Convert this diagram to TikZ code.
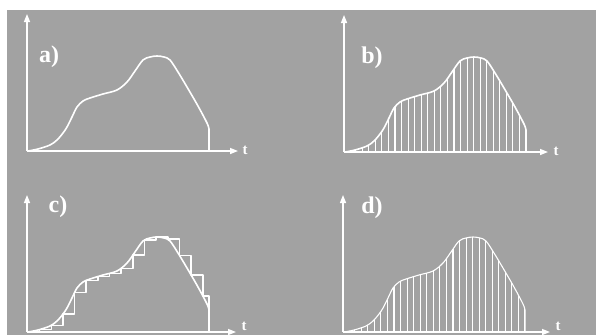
\documentclass[tikz,border=0pt]{standalone}
\usepackage{fontspec}
\setmainfont{Liberation Serif}
\usetikzlibrary{arrows.meta,intersections}
\definecolor{bg}{RGB}{162,162,162}
\begin{document}
\begin{tikzpicture}[x=1pt,y=-1pt,
  axis/.style={draw=white,line width=1.4pt,-{Triangle[length=8pt,width=6pt]}},
  crv/.style={draw=white,line width=1.6pt,line join=round},
  samp/.style={draw=white,line width=1.1pt},
  lab/.style={text=white,font=\fontsize{24}{24}\selectfont\bfseries,inner sep=0pt},
  tlab/.style={text=white,font=\fontsize{15}{15}\selectfont\bfseries,inner sep=0pt}]
\useasboundingbox (0,0) rectangle (596,335);
\fill[white] (0,0) rectangle (596,335);
\fill[bg] (7,10) rectangle (596,335);
\def\crvpath{plot[smooth,tension=0.55] coordinates {(0,0) (10,-2) (22,-6) (29,-11) (35,-18) (39,-24) (44,-34) (49,-44) (55,-50) (62,-53) (75,-57) (89,-61) (99,-69) (107,-80) (115,-91) (122,-94) (129,-95) (136,-94) (142,-91) (150,-79) (159,-64) (170,-45) (179,-28) (181,-22)} -- (181,0)}
% axes
\coordinate (oa) at (27,151); \coordinate (ya) at (27,14); \coordinate (xa) at (238,151);
\coordinate (ob) at (344,152); \coordinate (yb) at (344,15); \coordinate (xb) at (548,152);
\coordinate (oc) at (27,332); \coordinate (yc) at (27,195); \coordinate (xc) at (236,332);
\coordinate (od) at (343,332); \coordinate (yd) at (343,195); \coordinate (xd) at (550,332);
\foreach \p in {a,b,c,d}{
  \draw[axis] (o\p) -- (y\p);
  \draw[axis] (o\p) -- (x\p);
}
\node[tlab] (ta) at (245,150) {t};
\node[tlab] (tb) at (556,151) {t};
\node[tlab] (tc) at (244,326) {t};
\node[tlab] (td) at (558,326) {t};
% labels
\node[lab] (la) at (49,57) {a)};
\node[lab] (lb) at (372,58) {b)};
\node[lab] (lc) at (58,207) {c)};
\node[lab] (ld) at (372,208) {d)};
% a) continuous signal
\begin{scope}[shift={(28,151)}]
  \draw[crv] \crvpath;
\end{scope}
% b) sampled
\begin{scope}[shift={(345,152)}]
  \begin{scope}
    \clip \crvpath -- cycle;
    \foreach \k in {0,...,27} \draw[samp] (181-\k*6.55,0) -- (181-\k*6.55,-120);
  \end{scope}
  \draw[crv] \crvpath;
\end{scope}
% c) staircase
\begin{scope}[shift={(28,332)}]
  \draw[crv,name path=cc] \crvpath;
  \coordinate (s0) at (0,0);
  \foreach \k in {1,...,15}{
    \path[name path=vl] (\k*11.65,5) -- (\k*11.65,-120);
    \path[name intersections={of=cc and vl, by={s\k}}];
  }
  \coordinate (s16) at (181,0);
  \draw[crv] (s0) \foreach \k in {1,...,16}{ -| (s\k)};
\end{scope}
% d) sampled
\begin{scope}[shift={(344,332)}]
  \begin{scope}
    \clip \crvpath -- cycle;
    \foreach \k in {0,...,27} \draw[samp] (181-\k*6.55,0) -- (181-\k*6.55,-120);
  \end{scope}
  \draw[crv,line width=1.1pt] \crvpath;
\end{scope}
\end{tikzpicture}
\end{document}
